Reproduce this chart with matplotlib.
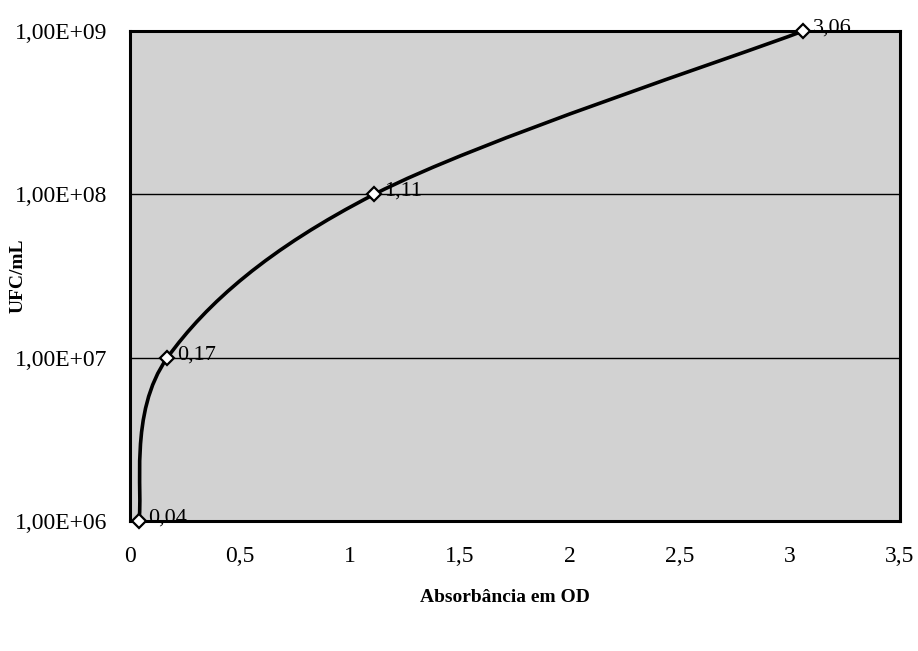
import numpy as np
import matplotlib
matplotlib.use("Agg")
import matplotlib.pyplot as plt
from matplotlib.path import Path
from matplotlib.patches import PathPatch

# data
absorbance = [0.04, 0.17, 1.11, 3.06]
ufc = [1e6, 1e7, 1e8, 1e9]
point_labels = ["0,04", "0,17", "1,11", "3,06"]
x_ticks = [0, 0.5, 1, 1.5, 2, 2.5, 3, 3.5]
x_tick_labels = ["0", "0,5", "1", "1,5", "2", "2,5", "3", "3,5"]
y_ticks = [1e6, 1e7, 1e8, 1e9]
y_tick_labels = ["1,00E+06", "1,00E+07", "1,00E+08", "1,00E+09"]

plt.rcParams['font.family'] = ['Liberation Serif', 'DejaVu Serif']

fig = plt.figure(figsize=(9.18, 6.51), dpi=100)
ax = fig.add_axes([0.1416, 0.1997, 0.8388, 0.7527])
ax.set_facecolor('#d2d2d2')

ax.set_yscale('log')
ax.set_xlim(0, 3.5)
ax.set_ylim(1e6, 1e9)

# smoothed line (Excel-style Catmull-Rom -> Bezier) built in (x, log10 y) space
pts = np.column_stack([np.array(absorbance), np.log10(ufc)])
ext = np.vstack([pts[0], pts, pts[-1]])
verts = [pts[0]]
codes = [Path.MOVETO]
for i in range(1, len(ext) - 2):
    p0, p1, p2, p3 = ext[i - 1], ext[i], ext[i + 1], ext[i + 2]
    verts += [p1 + (p2 - p0) / 6.0, p2 - (p3 - p1) / 6.0, p2]
    codes += [Path.CURVE4] * 3
verts = np.array(verts)
verts[:, 1] = 10 ** verts[:, 1]
curve = PathPatch(Path(verts, codes), facecolor='none', edgecolor='black',
                  lw=2.6, transform=ax.transData, zorder=3, clip_on=False)
ax.add_patch(curve)

ax.plot(absorbance, ufc, linestyle='none', marker='D', markersize=7,
        markerfacecolor='white', markeredgecolor='black', markeredgewidth=1.6,
        zorder=4, clip_on=False)

for x, y, lab in zip(absorbance, ufc, point_labels):
    ax.annotate(lab, (x, y), xytext=(7, 2), textcoords='offset points',
                fontsize=16, ha='left', va='center', zorder=5)

ax.set_yticks(y_ticks)
ax.set_yticklabels(y_tick_labels)
ax.yaxis.set_minor_locator(matplotlib.ticker.NullLocator())
ax.set_xticks(x_ticks)
ax.set_xticklabels(x_tick_labels)
ax.tick_params(axis='both', length=0, labelsize=17)
ax.tick_params(axis='x', pad=18)
ax.tick_params(axis='y', pad=16)

ax.yaxis.grid(True, color='black', lw=1.0)
ax.set_axisbelow(True)

for s in ax.spines.values():
    s.set_linewidth(2.2)
    s.set_color('black')

fig.text(0.02, 0.576, "UFC/mL", fontsize=14, fontweight='bold',
         ha='center', va='center', rotation=90)
fig.text(0.55, 0.082, "Absorbância em OD", fontsize=14, fontweight='bold',
         ha='center', va='center')

fig.savefig("out.png", dpi=100)
